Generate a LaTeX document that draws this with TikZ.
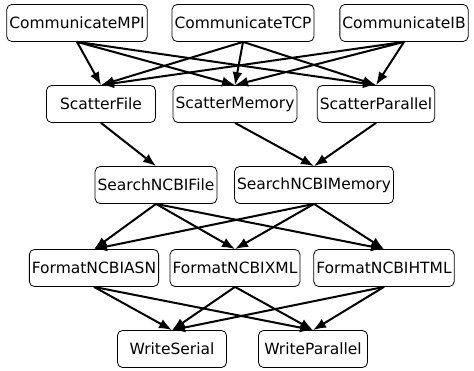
\documentclass[tikz,border=0pt]{standalone}
\usepackage{fontspec}
\setmainfont{DejaVu Sans}
\usepackage{tikz}
\usetikzlibrary{arrows.meta}

\begin{document}
\begin{tikzpicture}[
    x=1pt, y=-1pt,
    >={Latex[length=13pt,width=10pt]},
    task/.style={draw, line width=0.8pt, rounded corners=5pt, align=center, minimum height=37pt, minimum width=109pt, inner xsep=2.5pt, font=\fontsize{15.5}{18}\selectfont},
    line/.style={->, line width=2pt}
]
\useasboundingbox (0,0) rectangle (474,371);

% Communication back ends.
\node[task] (mpi) at (77,23) {CommunicateMPI};
\node[task] (tcp) at (243,23) {CommunicateTCP};
\node[task] (ib) at (404,23) {CommunicateIB};

% Scatter strategies.
\node[task] (sfile) at (101,104) {ScatterFile};
\node[task] (smem) at (235,104) {ScatterMemory};
\node[task] (spar) at (376,104) {ScatterParallel};

% Database search.
\node[task] (qfile) at (156,185) {SearchNCBIFile};
\node[task] (qmem) at (314,185) {SearchNCBIMemory};

% Output formats.
\node[task] (asn) at (94,268) {FormatNCBIASN};
\node[task] (xml) at (235,268) {FormatNCBIXML};
\node[task] (html) at (384,268) {FormatNCBIHTML};

% Writers.
\node[task] (wser) at (172,349) {WriteSerial};
\node[task] (wpar) at (313,349) {WriteParallel};

% Every back end feeds every scatter strategy.
\draw[line] (mpi.south) -- (sfile.north);
\draw[line] (mpi.south) -- (smem.north);
\draw[line] (mpi.south) -- (spar.north);
\draw[line] (tcp.south) -- (sfile.north);
\draw[line] (tcp.south) -- (smem.north);
\draw[line] (tcp.south) -- (spar.north);
\draw[line] (ib.south) -- (sfile.north);
\draw[line] (ib.south) -- (smem.north);
\draw[line] (ib.south) -- (spar.north);

% Scatter into search.
\draw[line] (sfile.south) -- (qfile.north);
\draw[line] (smem.south) -- (qmem.north);
\draw[line] (spar.south) -- (qmem.north);

% Search into formatting.
\draw[line] (qfile.south) -- (asn.north);
\draw[line] (qfile.south) -- (xml.north);
\draw[line] (qfile.south) -- (html.north);
\draw[line] (qmem.south) -- (asn.north);
\draw[line] (qmem.south) -- (xml.north);
\draw[line] (qmem.south) -- (html.north);

% Formatting into writers.
\draw[line] (asn.south) -- (wser.north);
\draw[line] (asn.south) -- (wpar.north);
\draw[line] (xml.south) -- (wser.north);
\draw[line] (xml.south) -- (wpar.north);
\draw[line] (html.south) -- (wser.north);
\draw[line] (html.south) -- (wpar.north);

\end{tikzpicture}
\end{document}
